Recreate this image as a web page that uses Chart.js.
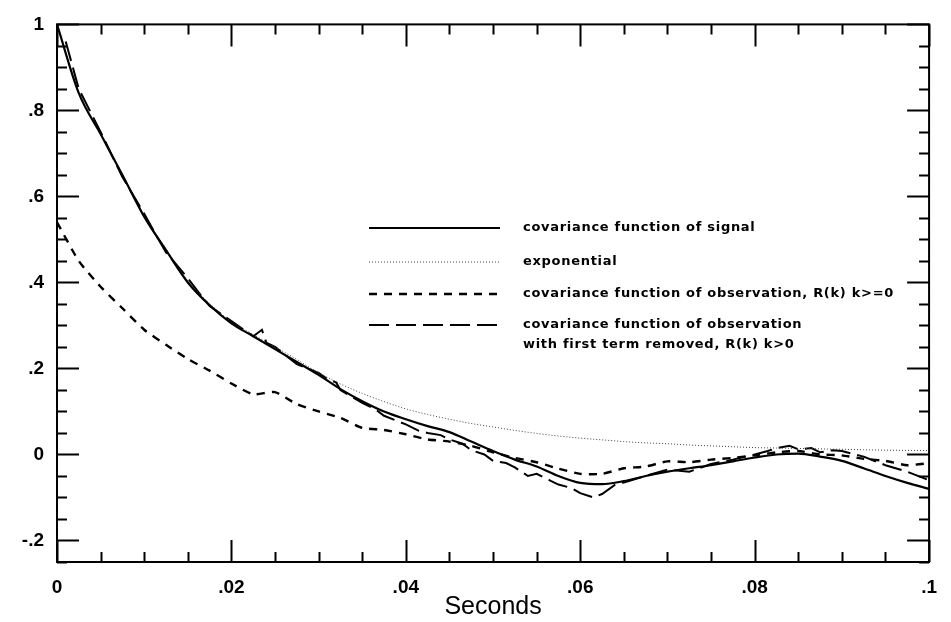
<!DOCTYPE html>
<html>
<head>
<meta charset="utf-8">
<script src="https://cdn.jsdelivr.net/npm/chart.js@4.4.1/dist/chart.umd.min.js"></script>
<style>
html,body{margin:0;padding:0;background:#fff;}
#wrap{width:951px;height:622px;position:relative;}
</style>
</head>
<body>
<div id="wrap"><canvas id="c" width="951" height="622"></canvas></div>
<script>
// ---- data ----
const lagSeconds = [0,.0025,.005,.0075,.01,.0125,.015,.0175,.02,.0225,.025,.0275,.03,.0325,.035,.0375,.04,.0425,.045,.0475,.05,.0525,.055,.0575,.06,.0625,.065,.0675,.07,.0725,.075,.0775,.08,.0825,.085,.0875,.09,.0925,.095,.0975,.1];
const signalCov = [1.0,.84,.745,.65,.553,.475,.40,.347,.305,.275,.245,.215,.185,.152,.124,.10,.082,.066,.052,.03,.008,-.012,-.028,-.05,-.066,-.069,-.062,-.05,-.04,-.032,-.025,-.016,-.007,0,.002,-.005,-.015,-.032,-.05,-.066,-.08];
const exponentialCov = [1.0,.842,.747,.652,.556,.478,.404,.351,.309,.279,.25,.221,.19,.164,.142,.123,.106,.093,.082,.072,.064,.056,.049,.043,.038,.034,.03,.027,.025,.022,.02,.018,.016,.015,.014,.013,.012,.011,.01,.0095,.009];
const obsCov = [.54,.45,.39,.34,.29,.255,.222,.195,.165,.14,.145,.117,.10,.085,.062,.057,.047,.035,.03,.02,.005,-.008,-.018,-.033,-.045,-.045,-.032,-.028,-.016,-.018,-.012,-.008,-.002,.005,.008,0,-.002,-.01,-.015,-.025,-.02];
// observation with first term removed is sampled on its own (denser) lag grid
const lagSecondsNoFirst = [.001,.0025,.005,.0075,.01,.0115,.0125,.015,.0165,.0175,.02,.0225,.0235,.024,.025,.0275,.03,.031,.032,.0325,.035,.0365,.0375,.04,.0415,.0425,.044,.045,.0465,.0475,.049,.05,.0515,.0525,.054,.055,.0565,.0575,.059,.06,.0615,.0625,.064,.065,.0675,.07,.0725,.075,.0775,.08,.0815,.0825,.084,.085,.0865,.0875,.089,.09,.0925,.095,.0975,.1];
const obsCovNoFirst = [.96,.85,.75,.645,.56,.505,.47,.41,.37,.345,.31,.275,.29,.26,.25,.21,.19,.175,.168,.15,.12,.105,.09,.07,.055,.05,.045,.035,.025,.01,0,-.015,-.02,-.03,-.05,-.045,-.06,-.07,-.078,-.09,-.1,-.092,-.07,-.065,-.05,-.035,-.04,-.022,-.012,0,.008,.015,.02,.012,.015,.005,.01,.008,-.005,-.025,-.04,-.06];

const seriesLabels = [
  ["covariance function of signal"],
  ["exponential"],
  ["covariance function of observation, R(k) k>=0"],
  ["covariance function of observation", "with first term removed, R(k) k>0"]
];
const xTickValues = [0,.02,.04,.06,.08,.1];
const xTickLabels = ["0",".02",".04",".06",".08",".1"];
const yTickValues = [-.2,0,.2,.4,.6,.8,1];
const yTickLabels = ["-.2","0",".2",".4",".6",".8","1"];
const xMinorStep = .005;
const yMinorStep = .05;
const xAxisTitle = "Seconds";

// ---- chart ----
const pts = (xs, ys) => xs.map((x,i)=>({x:x,y:ys[i]}));

const framePlugin = {
  id:'frameTicks',
  afterDatasetsDraw(chart){
    const {ctx, chartArea:a, scales:{x,y}} = chart;
    ctx.save();
    ctx.strokeStyle='#000';
    ctx.lineWidth=2;
    ctx.strokeRect(a.left,a.top,a.right-a.left,a.bottom-a.top);
    const majorLen=22, minorLen=10;
    ctx.beginPath();
    const nx = Math.round((x.max-x.min)/xMinorStep);
    for(let i=0;i<=nx;i++){
      const v = x.min + i*xMinorStep;
      const px = Math.round(x.getPixelForValue(v))+0.5;
      const major = xTickValues.some(t=>Math.abs(t-v)<1e-9);
      const L = major?majorLen:minorLen;
      ctx.moveTo(px,a.bottom); ctx.lineTo(px,a.bottom-L);
      ctx.moveTo(px,a.top); ctx.lineTo(px,a.top+L);
    }
    const startY = Math.ceil(y.min/yMinorStep-1e-9);
    const endY = Math.floor(y.max/yMinorStep+1e-9);
    for(let k=startY;k<=endY;k++){
      const v = k*yMinorStep;
      const py = Math.round(y.getPixelForValue(v))+0.5;
      const major = yTickValues.some(t=>Math.abs(t-v)<1e-9);
      const L = major?majorLen:minorLen;
      ctx.moveTo(a.left,py); ctx.lineTo(a.left+L,py);
      ctx.moveTo(a.right,py); ctx.lineTo(a.right-L,py);
    }
    ctx.stroke();
    ctx.restore();
  },
  afterDraw(chart){
    const ctx = chart.ctx;
    const rows = [228, 262, 294, 325];
    const x0 = 369, x1 = 500, tx = 523, lineGap = 20;
    ctx.save();
    chart.data.datasets.forEach((ds,i)=>{
      const yy = rows[i];
      ctx.strokeStyle = ds.borderColor;
      ctx.lineWidth = ds.borderWidth;
      ctx.setLineDash(ds.borderDash||[]);
      ctx.beginPath(); ctx.moveTo(x0,yy); ctx.lineTo(x1,yy); ctx.stroke();
      ctx.setLineDash([]);
      ctx.fillStyle='#000';
      ctx.font='bold 13px "DejaVu Sans"';
      ctx.letterSpacing='0.7px';
      ctx.textBaseline='middle';
      ctx.textAlign='left';
      seriesLabels[i].forEach((t,j)=>ctx.fillText(t,tx,yy+j*lineGap));
    });
    ctx.restore();
  }
};

new Chart(document.getElementById('c'),{
  type:'line',
  data:{datasets:[
    {label:seriesLabels[0].join(' '),data:pts(lagSeconds,signalCov),borderColor:'#000',borderWidth:2.2,pointRadius:0,cubicInterpolationMode:'monotone'},
    {label:seriesLabels[1].join(' '),data:pts(lagSeconds,exponentialCov),borderColor:'#444',borderWidth:1,borderDash:[1,2],pointRadius:0,cubicInterpolationMode:'monotone'},
    {label:seriesLabels[2].join(' '),data:pts(lagSeconds,obsCov),borderColor:'#000',borderWidth:2.4,borderDash:[8,7],pointRadius:0,tension:0.2},
    {label:seriesLabels[3].join(' '),data:pts(lagSecondsNoFirst,obsCovNoFirst),borderColor:'#000',borderWidth:2,borderDash:[20,7],pointRadius:0,tension:0}
  ]},
  options:{
    responsive:false,
    animation:false,
    events:[],
    layout:{padding:{top:20,right:8,left:0,bottom:0}},
    plugins:{legend:{display:false},tooltip:{enabled:false}},
    scales:{
      x:{
        type:'linear',min:0,max:.1,
        grid:{display:false,drawTicks:false},
        border:{display:false},
        afterBuildTicks:s=>{s.ticks=xTickValues.map(v=>({value:v}));},
        afterFit:s=>{s.height=60;},
        ticks:{padding:14,color:'#000',maxRotation:0,autoSkip:false,font:{family:'"Liberation Sans"',size:19,weight:'bold'},
          callback:(v,i)=>xTickLabels[i]},
        title:{display:true,text:xAxisTitle,color:'#000',font:{family:'"Liberation Sans"',size:25},padding:{top:-5,bottom:0}}
      },
      y:{
        type:'linear',min:-.25,max:1,
        grid:{display:false,drawTicks:false},
        border:{display:false},
        afterBuildTicks:s=>{s.ticks=yTickValues.map(v=>({value:v}));},
        afterFit:s=>{s.width=57;},
        ticks:{padding:13,color:'#000',autoSkip:false,font:{family:'"Liberation Sans"',size:19,weight:'bold'},
          callback:(v,i)=>yTickLabels[i]}
      }
    }
  },
  plugins:[framePlugin]
});
</script>
</body>
</html>
